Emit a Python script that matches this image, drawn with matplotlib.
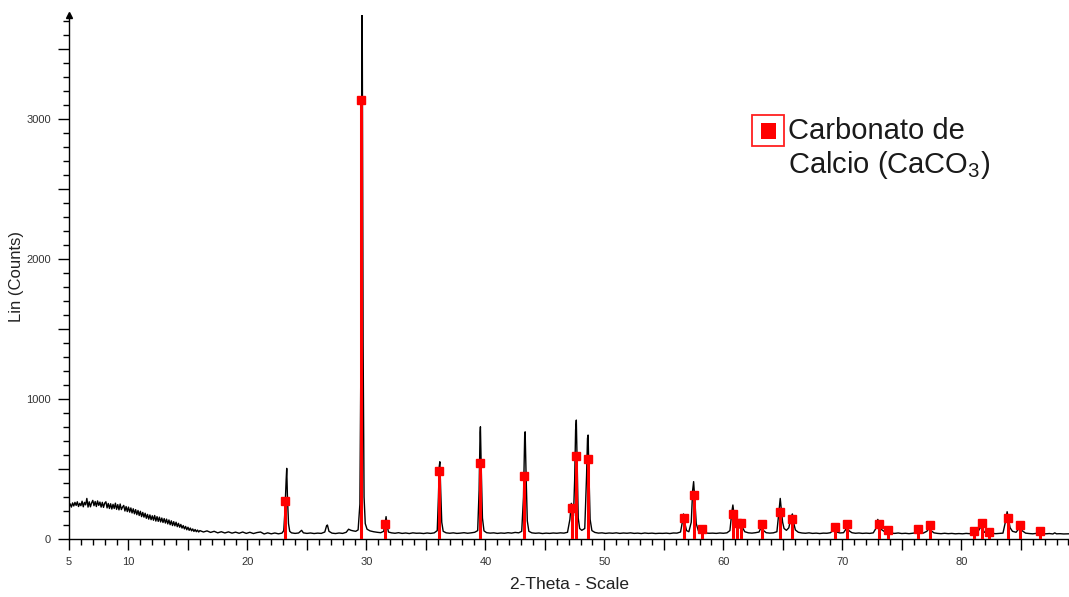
import matplotlib
matplotlib.use('Agg')
import matplotlib.pyplot as plt
from matplotlib.patches import Rectangle
from matplotlib.ticker import FixedLocator, MultipleLocator, FuncFormatter

plt.rcParams['font.family'] = ['Liberation Sans', 'DejaVu Sans']
plt.rcParams['mathtext.fontset'] = 'custom'
plt.rcParams['mathtext.rm'] = 'Liberation Sans'
plt.rcParams['mathtext.default'] = 'regular'

two_theta = [
    5.0, 5.1, 5.2, 5.3, 5.4, 5.5, 5.6, 5.7, 5.8, 5.9, 6.0, 6.1, 6.2, 6.3, 6.4, 6.5, 6.6, 6.7, 6.8, 6.9,
    7.0, 7.1, 7.2, 7.3, 7.4, 7.5, 7.6, 7.7, 7.8, 7.9, 8.0, 8.1, 8.2, 8.3, 8.4, 8.5, 8.6, 8.7, 8.8, 8.9,
    9.0, 9.1, 9.2, 9.3, 9.4, 9.5, 9.6, 9.7, 9.8, 9.9, 10.0, 10.1, 10.2, 10.3, 10.4, 10.5, 10.6, 10.7,
    10.8, 10.9, 11.0, 11.1, 11.2, 11.3, 11.4, 11.5, 11.6, 11.7, 11.8, 11.9, 12.0, 12.1, 12.2, 12.3,
    12.4, 12.5, 12.6, 12.7, 12.8, 12.9, 13.0, 13.1, 13.2, 13.3, 13.4, 13.5, 13.6, 13.7, 13.8, 13.9,
    14.0, 14.1, 14.2, 14.3, 14.4, 14.5, 14.6, 14.7, 14.8, 14.9, 15.0, 15.1, 15.2, 15.3, 15.4, 15.5,
    15.6, 15.7, 15.8, 15.9, 16.0,
    16.3, 16.6, 16.9, 17.2, 17.5, 17.8, 18.1, 18.4, 18.7, 19.0, 19.3, 19.6, 19.9, 20.2, 20.5, 20.8,
    21.1, 21.4, 21.7, 22.0, 22.3, 22.6, 22.9, 23.05, 23.15, 23.25, 23.3, 23.36, 23.45, 23.55, 23.7,
    24.0, 24.3, 24.55, 24.7, 25.0, 25.3, 25.6, 25.9, 26.2, 26.5, 26.65, 26.72, 26.85, 27.1, 27.4,
    27.7, 28.0, 28.3, 28.5, 28.7, 28.9, 29.1, 29.3, 29.45, 29.55, 29.64, 29.72, 29.8, 29.9, 30.05,
    30.3, 30.6, 30.9, 31.2, 31.45, 31.58, 31.65, 31.73, 31.85, 32.1, 32.4, 32.7, 33.0, 33.3, 33.6,
    33.9, 34.2, 34.5, 34.8, 35.1, 35.4, 35.7, 35.95, 36.05, 36.12, 36.17, 36.24, 36.33, 36.45, 36.7,
    37.0, 37.3, 37.6, 37.9, 38.2, 38.5, 38.8, 39.1, 39.35, 39.47, 39.55, 39.58, 39.65, 39.75, 39.88,
    40.1, 40.4, 40.7, 41.0, 41.3, 41.6, 41.9, 42.2, 42.5, 42.8, 43.05, 43.2, 43.3, 43.34, 43.42,
    43.52, 43.65, 43.9, 44.2, 44.5, 44.8, 45.1, 45.4, 45.7, 46.0, 46.3, 46.6, 46.9, 47.1, 47.22,
    47.3, 47.4, 47.5, 47.58, 47.64, 47.7, 47.8, 47.92, 48.1, 48.35, 48.5, 48.58, 48.63, 48.7, 48.8,
    48.95, 49.2, 49.5, 49.8, 50.1, 50.4, 50.7, 51.0, 51.3, 51.6, 51.9, 52.2, 52.5, 52.8, 53.1, 53.4,
    53.7, 54.0, 54.3, 54.6, 54.9, 55.2, 55.5, 55.8, 56.1, 56.4, 56.55, 56.65, 56.75, 56.9, 57.1,
    57.3, 57.42, 57.5, 57.6, 57.72, 57.9, 58.1, 58.25, 58.5, 58.8, 59.1, 59.4, 59.7, 60.0, 60.3,
    60.55, 60.72, 60.8, 60.9, 61.0, 61.1, 61.25, 61.35, 61.5, 61.65, 61.8, 62.1, 62.4, 62.7, 63.0,
    63.15, 63.25, 63.38, 63.6, 63.9, 64.2, 64.5, 64.65, 64.78, 64.88, 64.98, 65.1, 65.3, 65.5, 65.7,
    65.8, 65.9, 66.05, 66.3, 66.6, 66.9, 67.2, 67.5, 67.8, 68.1, 68.4, 68.7, 69.0, 69.2, 69.35, 69.5,
    69.8, 70.1, 70.3, 70.42, 70.55, 70.8, 71.1, 71.4, 71.7, 72.0, 72.3, 72.6, 72.85, 72.98, 73.1,
    73.25, 73.5, 73.8, 74.1, 74.4, 74.7, 75.0, 75.3, 75.6, 75.9, 76.2, 76.4, 76.55, 76.8, 77.1, 77.3,
    77.45, 77.7, 78.0, 78.3, 78.6, 78.9, 79.2, 79.5, 79.8, 80.1, 80.4, 80.7, 81.0, 81.1, 81.25,
    81.45, 81.65, 81.78, 81.95, 82.2, 82.35, 82.6, 82.9, 83.2, 83.5, 83.7, 83.85, 83.95, 84.1, 84.3,
    84.6, 84.85, 84.95, 85.1, 85.4, 85.7, 86.0, 86.3, 86.6, 86.8, 87.1, 87.4, 87.7, 87.85, 88.0,
    88.3, 88.6, 88.9, 89.0,
]
counts = [
    232, 251, 228, 258, 236, 262, 240, 266, 232, 255, 238, 270, 230, 262, 244, 290, 228, 266, 230, 258,
    276, 238, 268, 232, 272, 240, 264, 228, 262, 226, 256, 266, 222, 254, 218, 252, 214, 248, 218, 256,
    212, 246, 208, 250, 210, 228, 240, 200, 232, 196, 228, 192, 222, 186, 216, 180, 210, 174,
    204, 168, 198, 160, 190, 156, 184, 148, 176, 142, 172, 138, 166, 134, 168, 128,
    160, 126, 156, 122, 150, 118, 146, 114, 142, 108, 136, 102, 130, 96, 124, 94,
    120, 88, 112, 84, 104, 78, 96, 72, 90, 66, 84, 62, 78, 58, 72, 54,
    68, 52, 64, 50, 60,
    50, 58, 47, 55, 44, 52, 43, 51, 42, 49, 41, 50, 40, 48, 39, 46,
    50, 36, 44, 37, 43, 37, 42, 60, 200, 420, 505, 300, 110, 55, 44,
    40, 43, 62, 44, 40, 43, 39, 42, 40, 50, 95, 100, 55, 42, 39,
    43, 40, 48, 70, 62, 58, 55, 65, 250, 1500, 3900, 1400, 300, 110, 70,
    58, 52, 48, 45, 55, 120, 160, 100, 50, 44, 41, 45, 40, 43, 39,
    44, 41, 42, 39, 43, 40, 44, 60, 300, 520, 552, 350, 120, 55, 44,
    41, 44, 40, 42, 45, 41, 44, 48, 60, 350, 760, 802, 500, 150, 58,
    45, 42, 44, 40, 43, 41, 45, 42, 47, 44, 55, 300, 740, 766, 450,
    130, 55, 44, 41, 43, 39, 42, 40, 43, 41, 44, 42, 48, 140, 255,
    210, 165, 420, 780, 850, 600, 150, 75, 62, 75, 450, 720, 743, 480, 140,
    60, 47, 42, 44, 40, 43, 41, 44, 40, 43, 41, 44, 40, 42, 39, 43,
    40, 42, 39, 41, 40, 42, 39, 43, 42, 50, 120, 179, 120, 60, 52,
    120, 350, 410, 280, 110, 58, 52, 48, 43, 41, 42, 40, 43, 41, 44,
    60, 200, 243, 170, 150, 110, 95, 80, 114, 75, 52, 44, 42, 45, 50,
    80, 93, 60, 45, 42, 44, 52, 180, 290, 200, 120, 75, 62, 80, 160,
    179, 120, 65, 48, 43, 41, 44, 40, 42, 39, 42, 41, 45, 60, 69, 50,
    43, 45, 70, 81, 60, 45, 41, 43, 40, 42, 40, 44, 80, 140, 95,
    70, 55, 48, 42, 40, 43, 39, 41, 38, 41, 45, 60, 50, 42, 55, 76,
    60, 44, 40, 38, 41, 38, 40, 37, 39, 37, 40, 38, 45, 52, 45,
    60, 88, 70, 48, 45, 50, 40, 38, 40, 42, 120, 195, 150, 80, 55,
    48, 75, 83, 60, 42, 39, 37, 40, 43, 38, 37, 39, 36, 44, 37,
    38, 36, 37, 37,
]

# Reference pattern lines for calcite (position, marker height)
ref_pos = [23.19, 29.52, 31.60, 36.10, 39.52, 43.28, 47.25, 47.64, 48.65, 56.67,
           57.51, 58.22, 60.82, 61.15, 61.50, 63.22, 64.80, 65.80, 69.36, 70.42,
           73.05, 73.83, 76.40, 77.33, 81.06, 81.70, 82.32, 83.91, 84.95, 86.63]
ref_int = [274, 3136, 107, 483, 543, 450, 219, 593, 571, 148,
           314, 69, 176, 112, 117, 107, 190, 140, 88, 105,
           107, 64, 71, 100, 60, 112, 52, 152, 100, 60]

x_ticks = [5, 10, 15, 20, 25, 30, 35, 40, 45, 50, 55, 60, 65, 70, 75, 80, 85]
x_labeled = [5, 10, 20, 30, 40, 50, 60, 70, 80]
y_ticks = [0, 500, 1000, 1500, 2000, 2500, 3000, 3500]
y_labeled = [0, 1000, 2000, 3000]

fig = plt.figure(figsize=(10.69, 5.97), dpi=100)
ax = fig.add_axes([69 / 1069, 1 - 539 / 597, 1 - 69 / 1069, (539 - 15) / 597])

ax.plot(two_theta, counts, color='black', lw=1.0, zorder=2)
ax.vlines(ref_pos, 0, ref_int, color='#ff0000', lw=2.2, zorder=3)
ax.plot(ref_pos, ref_int, 's', color='#ff0000', ms=6, zorder=4)

ax.set_xlim(5, 89.05)
ax.set_ylim(0, 3745)

for s in ['top', 'right']:
    ax.spines[s].set_visible(False)
ax.spines['left'].set_linewidth(1.0)
ax.spines['bottom'].set_linewidth(1.0)
# arrow head on the y axis
ax.plot([5], [3745], marker='^', color='black', ms=5, clip_on=False, zorder=5)

ax.xaxis.set_major_locator(FixedLocator(x_ticks))
ax.xaxis.set_minor_locator(MultipleLocator(1))
ax.xaxis.set_major_formatter(FuncFormatter(lambda v, p: '%d' % v if round(v) in x_labeled else ''))
ax.yaxis.set_major_locator(FixedLocator(y_ticks))
ax.yaxis.set_minor_locator(MultipleLocator(100))
ax.yaxis.set_major_formatter(FuncFormatter(lambda v, p: '%d' % v if round(v) in y_labeled else ''))

ax.tick_params(which='major', length=8, width=1, labelsize=8, labelcolor='#333333', pad=5)
ax.tick_params(which='minor', length=4.5, width=1)

ax.set_xlabel('2-Theta - Scale', fontsize=12.5, color='#222222')
ax.set_ylabel('Lin (Counts)', fontsize=12, color='#222222')
ax.xaxis.set_label_coords(0.5, -0.072)
ax.yaxis.set_label_coords(-0.045, 0.5)

# legend symbol and text
W, H = 1069.0, 597.0
fig.add_artist(Rectangle((752 / W, 1 - 146 / H), 32 / W, 31 / H, transform=fig.transFigure,
                         fill=False, edgecolor='#ff2020', lw=1.3))
fig.add_artist(Rectangle((761 / W, 1 - 139 / H), 15 / W, 16 / H, transform=fig.transFigure,
                         facecolor='#ff0000', edgecolor='none'))
fig.text(788 / W, 1 - 149 / H, 'Carbonato de\nCalcio (CaCO$_3$)', fontsize=21,
         color='#1a1a1a', ha='left', va='center', linespacing=1.15)

plt.savefig('out.png', dpi=100)
